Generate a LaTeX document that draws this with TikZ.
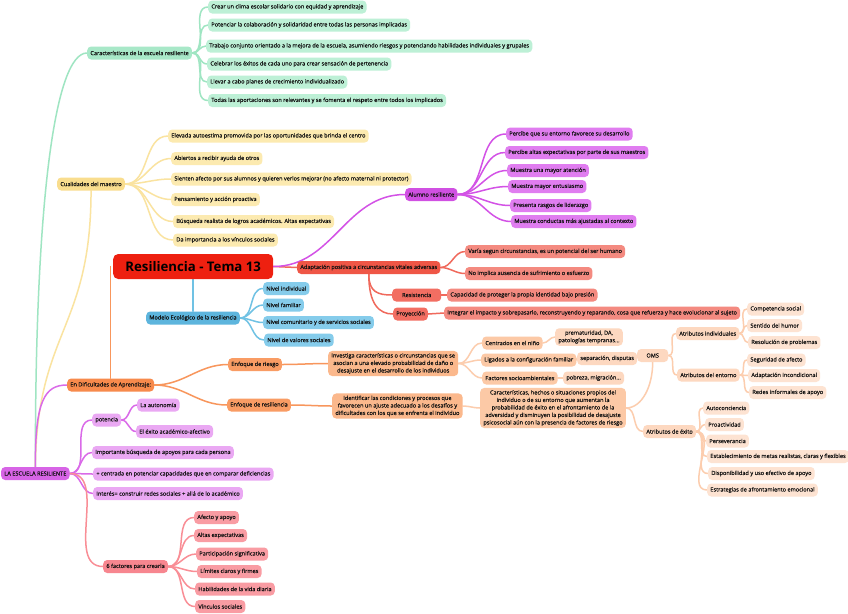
\documentclass[tikz,border=0pt]{standalone}
\usepackage{fontspec}
\setmainfont{Open Sans}[UprightFeatures={FakeBold=0.2}]
\usetikzlibrary{backgrounds}
\definecolor{txt}{HTML}{111111}
\definecolor{gP}{HTML}{A8E8C8}\definecolor{gC}{HTML}{BDF0D6}\definecolor{gL}{HTML}{9FE5C2}
\definecolor{yP}{HTML}{F9DD8E}\definecolor{yC}{HTML}{FCEAB0}\definecolor{yL}{HTML}{FAE3A0}
\definecolor{aP}{HTML}{D050E2}\definecolor{aC}{HTML}{E07DF0}\definecolor{aL}{HTML}{D352E6}
\definecolor{tit}{HTML}{EE2010}
\definecolor{rA}{HTML}{EF5646}\definecolor{rB}{HTML}{F26E62}\definecolor{rC}{HTML}{F48A80}\definecolor{rL}{HTML}{F0695C}
\definecolor{bP}{HTML}{5DB5DD}\definecolor{bC}{HTML}{85CCEB}\definecolor{bL}{HTML}{70C2E4}
\definecolor{oA}{HTML}{F78A4C}\definecolor{oB}{HTML}{F99C64}\definecolor{oC}{HTML}{FBB88C}
\definecolor{oD}{HTML}{FCC9A6}\definecolor{oE}{HTML}{FDD8C0}\definecolor{oF}{HTML}{FDE3D2}
\definecolor{oL}{HTML}{F8965C}\definecolor{oL2}{HTML}{FCCDAE}
\definecolor{pR}{HTML}{D764E6}\definecolor{pC}{HTML}{EAA8F3}\definecolor{pL}{HTML}{DA6AE8}
\definecolor{kP}{HTML}{F7868F}\definecolor{kC}{HTML}{F99CA3}\definecolor{kL}{HTML}{F98E96}
\newcommand\fs{\fontsize{5.6}{7.5}\selectfont}
\begin{document}
\begin{tikzpicture}[x=1pt,y=-1pt,
  box/.style={rounded corners=4pt, inner xsep=3.2pt, inner ysep=0pt, minimum height=13pt, anchor=west, font=\fs, text=txt},
  multi/.style={box, align=center, inner ysep=2.2pt, minimum height=0pt},
  con/.style={line width=1.5pt, line cap=round},
  lk/.style={out=0, in=180}]
\useasboundingbox (0,0) rectangle (848,613);

% ---------- green
\node[box, fill=gP] (car) at (87,53) {Características de la escuela resiliente};
\node[box, fill=gC] (g1) at (208,7) {Crear un clima escolar solidario con equidad y aprendizaje};
\node[box, fill=gC] (g2) at (208,25) {Potenciar la colaboración y solidaridad entre todas las personas implicadas};
\node[box, fill=gC] (g3) at (206,46) {Trabajo conjunto orientado a la mejora de la escuela, asumiendo riesgos y potenciando habilidades individuales y grupales};
\node[box, fill=gC] (g4) at (207,64) {Celebrar los éxitos de cada uno para crear sensación de pertenencia};
\node[box, fill=gC] (g5) at (207,82) {Llevar a cabo planes de crecimiento individualizado};
\node[box, fill=gC] (g6) at (208,100.5) {Todas las aportaciones son relevantes y se fomenta el respeto entre todos los implicados};

% ---------- yellow
\node[box, fill=yP] (cua) at (57,184) {Cualidades del maestro};
\node[box, fill=yC] (y1) at (168,136) {Elevada autoestima promovida por las oportunidades que brinda el centro};
\node[box, fill=yC] (y2) at (171,158.5) {Abiertos a recibir ayuda de otros};
\node[box, fill=yC] (y3) at (171,179) {Sienten afecto por sus alumnos y quieren verlos mejorar (no afecto maternal ni protector)};
\node[box, fill=yC] (y4) at (171,199.5) {Pensamiento y acción proactiva};
\node[box, fill=yC] (y5) at (173,221.5) {Búsqueda realista de logros académicos. Altas expectativas};
\node[box, fill=yC] (y6) at (173,240) {Da importancia a los vínculos sociales};

% ---------- alumno
\node[box, fill=aP] (alu) at (405,194.5) {Alumno resiliente};
\node[box, fill=aC] (a1) at (506,134) {Percibe que su entorno favorece su desarrollo};
\node[box, fill=aC] (a2) at (505,152.5) {Percibe altas expectativas por parte de sus maestros};
\node[box, fill=aC] (a3) at (507,170.5) {Muestra una mayor atención};
\node[box, fill=aC] (a4) at (508,186.5) {Muestra mayor entusiasmo};
\node[box, fill=aC] (a5) at (510,205.5) {Presenta rasgos de liderazgo};
\node[box, fill=aC] (a6) at (511,221.5) {Muestra conductas más ajustadas al contexto};

% ---------- title and red
\node[box, fill=tit, minimum width=160pt, minimum height=25pt, rounded corners=5pt, text=black,
      font=\fontsize{13.2}{15}\selectfont\bfseries] (tit) at (113,266.5) {Resiliencia - Tema 13};
\node[box, fill=rA] (ada) at (297,267.5) {Adaptación positiva a circunstancias vitales adversas};
\node[box, fill=rB, minimum width=49pt] (res) at (392,295) {Resistencia};
\node[box, fill=rB] (pro) at (393,314) {Proyección};
\node[box, fill=rC] (v1) at (465,251.5) {Varía segun circunstancias, es un potencial del ser humano};
\node[box, fill=rC] (v2) at (465,273.5) {No implica ausencia de sufrimiento o esfuerzo};
\node[box, fill=rC] (cap) at (447,295) {Capacidad de proteger la propia identidad bajo presión};
\node[box, fill=rC] (int) at (444,313) {Integrar el impacto y sobrepasarlo, reconstruyendo y reparando, cosa que refuerza y hace evolucionar al sujeto};

% ---------- blue
\node[box, fill=bP] (mod) at (146,318) {Modelo Ecológico de la resiliencia};
\node[box, fill=bC] (n1) at (263,288.5) {Nivel individual};
\node[box, fill=bC] (n2) at (263,305) {Nivel familiar};
\node[box, fill=bC] (n3) at (263,322.5) {Nivel comunitario y de servicios sociales};
\node[box, fill=bC] (n4) at (264,340) {Nivel de valores sociales};

% ---------- orange
\node[box, fill=oA] (dif) at (67,385) {En Dificultades de Aprendizaje:};
\node[box, fill=oB] (er) at (228,364.5) {Enfoque de riesgo};
\node[box, fill=oB] (es) at (227,405) {Enfoque de resiliencia};
\node[multi, fill=oC] (inv) at (328,363.5) {Investiga características o circunstancias que se\\asocian a una elevado probabilidad de daño o\\desajuste en el desarrollo de los individuos};
\node[multi, fill=oC] (idf) at (332,406) {Identificar las condiciones y procesos que\\favorecen un ajuste adecuado a los desafíos y\\dificultades con los que se enfrenta el individuo};
\node[box, fill=oD] (cen) at (482,343) {Centrados en el niño};
\node[multi, fill=oE] (pre) at (555,337) {prematuridad, DA,\\patologías tempranas...};
\node[box, fill=oD] (lig) at (481,360) {Ligados a la configuración familiar};
\node[box, fill=oE] (sep) at (577,358.5) {separación, disputas};
\node[box, fill=oD] (fac) at (482,378) {Factores socioambientales};
\node[box, fill=oE] (pob) at (563,378) {pobreza, migración...};
\node[multi, fill=oD] (chs) at (480,408) {Características, hechos o situaciones propios del\\individuo o de su entorno que aumentan la\\probabilidad de éxito en el afrontamiento de la\\adversidad y disminuyen la posibilidad de desajuste\\psicosocial aún con la presencia de factores de riesgo};
\node[box, fill=oE, minimum width=31pt] (oms) at (637,355.5) {OMS};
\node[box, fill=oE] (ai) at (676,333.5) {Atributos individuales};
\node[box, fill=oE] (ae) at (677,375) {Atributos del entorno};
\node[box, fill=oF] (c1) at (747,309) {Competencia social};
\node[box, fill=oF] (c2) at (747,325.5) {Sentido del humor};
\node[box, fill=oF] (c3) at (748,342.5) {Resolución de problemas};
\node[box, fill=oF] (e1) at (747,360) {Seguridad de afecto};
\node[box, fill=oF] (e2) at (748,375.5) {Adaptación incondicional};
\node[box, fill=oF] (e3) at (749,392.5) {Redes informales de apoyo};
\node[box, fill=oE] (ax) at (643,431.5) {Atributos de éxito};
\node[box, fill=oF] (x1) at (703,408) {Autoconciencia};
\node[box, fill=oF] (x2) at (705,424.5) {Proactividad};
\node[box, fill=oF] (x3) at (706,441) {Perseverancia};
\node[box, fill=oF] (x4) at (707,456.5) {Establecimiento de metas realistas, claras y flexibles};
\node[box, fill=oF] (x5) at (708,473.5) {Disponibilidad y uso efectivo de apoyo};
\node[box, fill=oF] (x6) at (707,490) {Estrategias de afrontamiento emocional};

% ---------- root
\node[box, fill=pR] (root) at (1,473.5) {LA ESCUELA RESILIENTE};
\node[box, fill=pC] (pot) at (92,420) {potencia};
\node[box, fill=pC] (p1) at (137,405) {La autonomía};
\node[box, fill=pC] (p2) at (136,431.5) {El éxito académico-afectivo};
\node[box, fill=pC] (r1) at (92,452.5) {Importante búsqueda de apoyos para cada persona};
\node[box, fill=pC] (r2) at (93,474) {+ centrada en potenciar capacidades que en comparar deficiencias};
\node[box, fill=pC] (r3) at (93,493.5) {Interés= construir redes sociales + allá de lo académico};

% ---------- pink
\node[box, fill=kP] (six) at (103,566.5) {6 factores para crearla};
\node[box, fill=kC] (s1) at (194,517.5) {Afecto y apoyo};
\node[box, fill=kC] (s2) at (194,535.5) {Altas expectativas};
\node[box, fill=kC] (s3) at (196,554) {Participación significativa};
\node[box, fill=kC] (s4) at (197,571.5) {Límites claros y firmes};
\node[box, fill=kC] (s5) at (195,589) {Habilidades de la vida diaria};
\node[box, fill=kC] (s6) at (195,606.5) {Vínculos sociales};

\begin{pgfonlayer}{background}
\fill[white] (0,0) rectangle (848,613);
% root long branches
\draw[con, gL] (root.north) .. controls (35,200) and (55,53) .. (car.west);
\draw[con, yL] (root.north) .. controls (37,330) and (91,330) .. (cua.south);
\draw[con, pL] (root.north) .. controls (35,400) and (45,385) .. (dif.west);
\foreach \c in {pot,r1,r2,r3} \draw[con, pL] (root.east) to[lk] (\c.west);
\draw[con, kL] (root.east) to[lk] (six.west);
\foreach \c in {p1,p2} \draw[con, pL] (pot.east) to[lk] (\c.west);
\foreach \c in {s1,s2,s3,s4,s5,s6} \draw[con, kL] (six.east) to[lk] (\c.west);
\foreach \c in {g1,g2,g3,g4,g5,g6} \draw[con, gL] (car.east) to[lk] (\c.west);
\foreach \c in {y1,y2,y3,y4,y5,y6} \draw[con, yL] (cua.east) to[lk] (\c.west);
% center
\draw[con, oL] (dif.north) -- (dif.north |- tit.center);
\draw[con, bL] (mod.north) -- (tit.center -| mod.north);
\draw[con, rL] (tit.east) -- (ada.west);
\draw[con, aL] (tit.east) .. controls +(60,0) and +(-60,0) .. (alu.west);
\foreach \c in {a1,a2,a3,a4,a5,a6} \draw[con, aL] (alu.east) to[lk] (\c.west);
\foreach \c in {v1,v2} \draw[con, rL] (ada.east) to[lk] (\c.west);
\draw[con, rL] (ada.south) .. controls +(0,18) and +(-14,0) .. (res.west);
\draw[con, rL] (ada.south) .. controls +(0,30) and +(-14,0) .. (pro.west);
\draw[con, rL] (res.east) -- (cap.west);
\draw[con, rL] (pro.east) -- (int.west);
\foreach \c in {n1,n2,n3,n4} \draw[con, bL] (mod.east) to[lk] (\c.west);
% orange
\foreach \c in {er,es} \draw[con, oL] (dif.east) to[lk] (\c.west);
\draw[con, oL] (er.east) to[lk] (inv.west);
\draw[con, oL] (es.east) to[lk] (idf.west);
\foreach \c in {cen,lig,fac} \draw[con, oL2] (inv.east) to[lk] (\c.west);
\draw[con, oL2] (cen.east) to[lk] (pre.west);
\draw[con, oL2] (lig.east) to[lk] (sep.west);
\draw[con, oL2] (fac.east) to[lk] (pob.west);
\draw[con, oL2] (idf.east) to[lk] (chs.west);
\draw[con, oL2] (chs.east) .. controls +(16,0) and +(0,24) .. (oms.south);
\draw[con, oL2] (chs.east) to[lk] (ax.west);
\foreach \c in {ai,ae} \draw[con, oL2] (oms.east) to[lk] (\c.west);
\foreach \c in {c1,c2,c3} \draw[con, oL2] (ai.east) to[lk] (\c.west);
\foreach \c in {e1,e2,e3} \draw[con, oL2] (ae.east) to[lk] (\c.west);
\foreach \c in {x1,x2,x3,x4,x5,x6} \draw[con, oL2] (ax.east) to[lk] (\c.west);
\end{pgfonlayer}
\end{tikzpicture}
\end{document}
